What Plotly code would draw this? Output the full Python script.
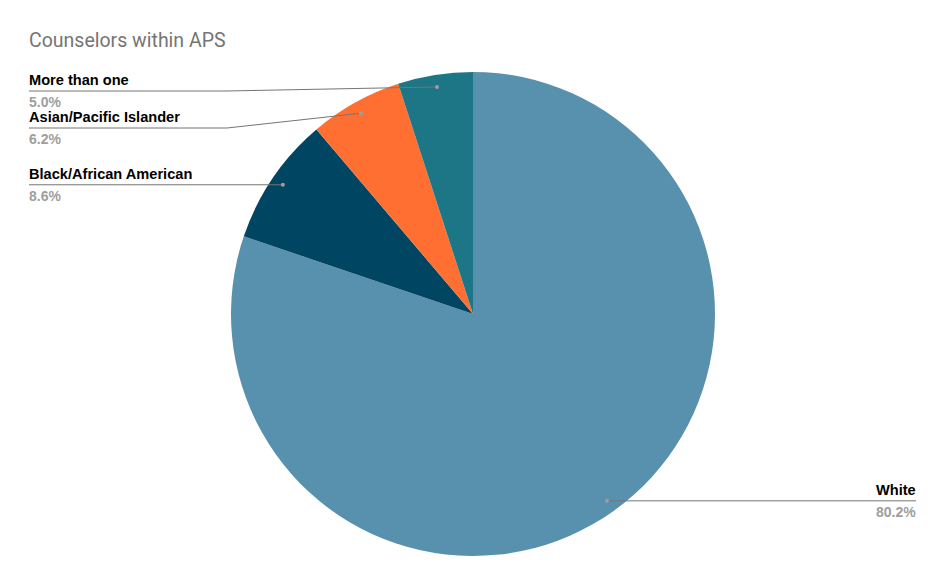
import math
import plotly.graph_objects as go

# ---- data ----
categories = ["White", "Black/African American", "Asian/Pacific Islander", "More than one"]
values = [80.2, 8.6, 6.2, 5.0]
colors = ["#5891ad", "#004561", "#ff6f31", "#1c7685"]
title_text = "Counselors within APS"

# ---- layout geometry (pixels) ----
W, H = 946, 586
M_T, M_B, M_L, M_R = 72, 30, 0, 0
PW, PH = W - M_L - M_R, H - M_T - M_B
CX = M_L + PW / 2
R = min(PW, PH) / 2
CY = M_T + PH / 2
DOT_R = 0.95 * R
LEFT_X = 29
RIGHT_X = 916
BEND_X = 227
MIN_GAP = 37
TOP_LIMIT = 91
TXT_PAD = 2


def px(x):
    return (x - M_L) / PW


def py(y):
    return 1 - (y - M_T) / PH


fig = go.Figure(go.Pie(
    labels=categories,
    values=values,
    marker=dict(colors=colors, line=dict(width=0)),
    sort=False,
    direction="clockwise",
    rotation=0,
    textinfo="none",
    hoverinfo="label+percent",
    showlegend=False,
))

total = sum(values)
start = 0.0
left_items, right_items = [], []
for name, v in zip(categories, values):
    frac = v / total
    mid = (start + frac / 2) * 2 * math.pi
    start += frac
    dx, dy = math.sin(mid), -math.cos(mid)
    dotx, doty = CX + DOT_R * dx, CY + DOT_R * dy
    item = dict(name=name, pct=f"{100 * frac:.1f}%", dotx=dotx, doty=doty)
    (left_items if dx < 0 else right_items).append(item)

# resolve label y positions on the left
left_items.sort(key=lambda d: d["doty"])
prev = TOP_LIMIT - MIN_GAP
for it in left_items:
    it["ly"] = max(it["doty"], prev + MIN_GAP)
    prev = it["ly"]
for it in right_items:
    it["ly"] = it["doty"]

shapes, annotations = [], []
line_col = "#757575"
dot_col = "#9e9e9e"
LBL_FONT = "Liberation Sans, Arial"
LBL_SIZE = 14.6


def line(x0, y0, x1, y1):
    shapes.append(dict(type="line", xref="paper", yref="paper",
                       x0=px(x0), y0=py(y0), x1=px(x1), y1=py(y1),
                       line=dict(color=line_col, width=1)))


def add_label(it, side):
    ly = it["ly"]
    if side == "left":
        x_text, anchor = LEFT_X - TXT_PAD, "left"
        if abs(ly - it["doty"]) > 0.5:
            line(LEFT_X, ly, BEND_X, ly)
            line(BEND_X, ly, it["dotx"], it["doty"])
        else:
            line(LEFT_X, ly, it["dotx"], ly)
    else:
        x_text, anchor = RIGHT_X + TXT_PAD, "right"
        line(it["dotx"], ly, RIGHT_X, ly)
    shapes.append(dict(type="circle", xref="paper", yref="paper",
                       x0=px(it["dotx"] - 2), x1=px(it["dotx"] + 2),
                       y0=py(it["doty"] + 2), y1=py(it["doty"] - 2),
                       fillcolor=dot_col, line=dict(width=0)))
    annotations.append(dict(xref="paper", yref="paper", x=px(x_text), y=py(ly - 1),
                            xanchor=anchor, yanchor="bottom", showarrow=False,
                            text=f"<b>{it['name']}</b>",
                            font=dict(family=LBL_FONT, size=LBL_SIZE, color="#000000")))
    annotations.append(dict(xref="paper", yref="paper", x=px(x_text), y=py(ly + 1),
                            xanchor=anchor, yanchor="top", showarrow=False,
                            text=f"<b>{it['pct']}</b>",
                            font=dict(family=LBL_FONT, size=14, color="#9e9e9e")))


for it in left_items:
    add_label(it, "left")
for it in right_items:
    add_label(it, "right")

annotations.append(dict(xref="paper", yref="paper", x=px(LEFT_X - 2), y=py(41),
                        xanchor="left", yanchor="middle", showarrow=False,
                        text=title_text,
                        font=dict(family="Roboto, Liberation Sans", size=19.5, color="#757575")))

fig.update_layout(
    width=W, height=H,
    margin=dict(l=M_L, r=M_R, t=M_T, b=M_B),
    paper_bgcolor="white", plot_bgcolor="white",
    shapes=shapes, annotations=annotations,
)

fig.write_html("out.html", config={"displayModeBar": False},
               post_script="document.body.style.margin='0';")
